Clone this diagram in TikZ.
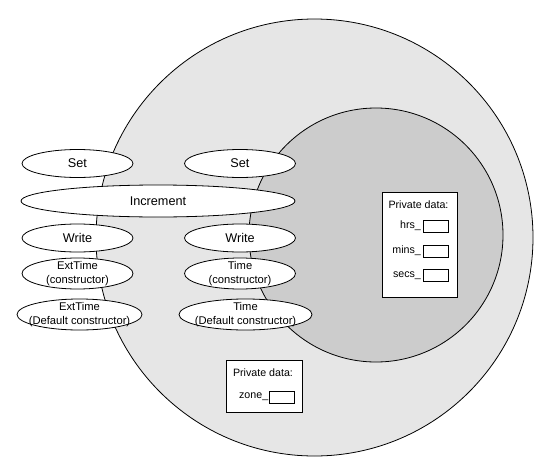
\documentclass[tikz,border=0pt]{standalone}
\usepackage{fontspec}
\setmainfont{Liberation Sans}
\usepackage{xcolor}
\usepackage{tikz}
\usetikzlibrary{shapes.geometric,positioning}
\definecolor{extgrey}{RGB}{230,230,230}
\definecolor{basegrey}{RGB}{204,204,204}

\begin{document}
\begin{tikzpicture}[
  x=0.75pt, y=-0.75pt, line width=0.6pt,
  font=\fontsize{9.5}{11}\selectfont,
  meth/.style={draw, ellipse, fill=white, inner xsep=-30pt, inner ysep=-12pt,
               minimum width=83.25pt, minimum height=21pt},
  ctor/.style={meth, minimum height=23.25pt, align=center,
               font=\fontsize{8.4}{10.5}\selectfont},
  privbox/.style={draw, fill=white, inner sep=0pt},
  privtitle/.style={inner sep=0pt, font=\fontsize{8}{9}\selectfont},
  field/.style={draw, fill=white, inner sep=0pt, minimum width=18.75pt, minimum height=9pt},
  flabel/.style={inner sep=0pt, anchor=east, font=\fontsize{8}{9}\selectfont}
]
\useasboundingbox (0,0) rectangle (550,475);
% derived class (outer) and base class (inner)
\draw[fill=extgrey] (314.5,237.5) circle[radius=218.5];
\draw[fill=basegrey] (376,235) circle[radius=127];

% member functions
\node[meth] (setext) at (77.5,163.5) {Set};
\node[meth] (setbase) at (240,163.5) {Set};
\node[meth, minimum width=205.5pt, minimum height=24pt] (incr) at (158,201) {Increment};
\node[meth] (writeext) at (77.5,238) {Write};
\node[meth] (writebase) at (240,238) {Write};
\node[ctor] (ctorext) at (77.5,273.5) {ExtTime\\(constructor)};
\node[ctor] (ctorbase) at (240,273.5) {Time\\(constructor)};
\node[ctor, minimum width=93.75pt] (defext) at (79.5,314.5) {ExtTime\\(Default constructor)};
\node[ctor, minimum width=99.75pt] (defbase) at (245.5,314.5) {Time\\(Default constructor)};

% private data of the base class
\node[privbox, minimum width=56.25pt, minimum height=78.75pt] (privbase) at (419.5,244.5) {};
\node[privtitle] (titlebase) at (418.5,205) {Private data:};
\node[field] (hrs) at (435.5,226) {};
\node[field] (mins) at (435.5,251) {};
\node[field] (secs) at (435.5,275.5) {};
\node[flabel, left=1pt of hrs] (hrslbl) {hrs\_};
\node[flabel, left=1pt of mins] (minslbl) {mins\_};
\node[flabel, left=1pt of secs] (secslbl) {secs\_};

% private data of the derived class
\node[privbox, minimum width=57pt, minimum height=39pt] (privext) at (264,386) {};
\node[privtitle] (titleext) at (263,373) {Private data:};
\node[field] (zone) at (281.5,397) {};
\node[flabel, left=0pt of zone] (zonelbl) {zone\_};
\end{tikzpicture}
\end{document}
